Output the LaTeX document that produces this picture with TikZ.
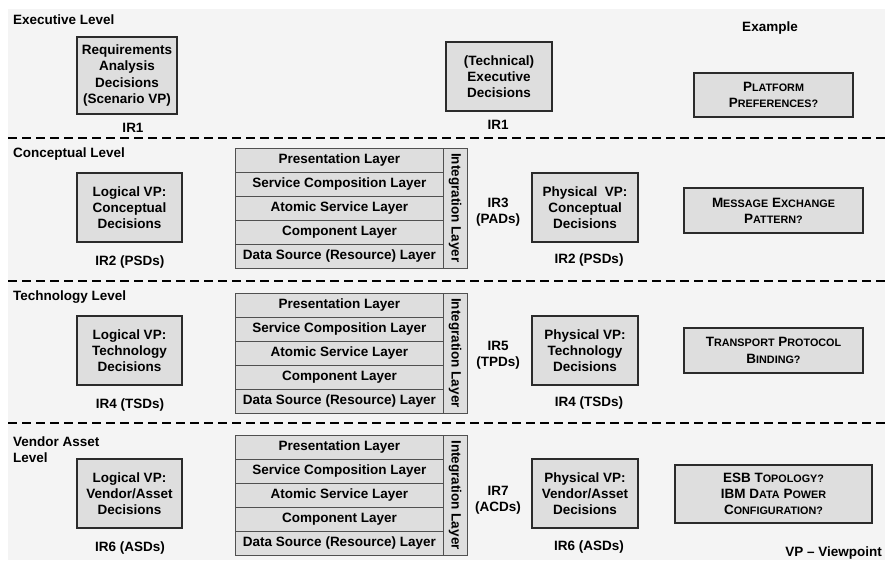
\documentclass[tikz,border=0pt]{standalone}
\usepackage{fontspec}
\setmainfont{Liberation Sans}
\definecolor{bgfill}{HTML}{F4F4F4}
\definecolor{boxfill}{HTML}{DEDEDE}
\definecolor{boxline}{HTML}{2B2B2B}
\definecolor{layerline}{HTML}{505050}
% faux small caps: first letter full size, the rest in smaller capitals
\newcommand\fsc[2]{#1{\fontsize{10.8}{13}\selectfont #2}}
% a five-layer architecture stack with its integration column
\newcommand\drawstack[2]{%
  \foreach \lname [count=\i from 0] in {Presentation Layer, Service Composition Layer, Atomic Service Layer, Component Layer, Data Source (Resource) Layer}{
    \node[layerbox] (#1-l\i) at (235, #2+24*\i) {\lname};
  }
  \node[intbox] (#1-int) at (443, #2) {};
  \node[rotate=-90] (#1-intlabel) at (455, #2+60) {Integration Layer};
}
\begin{document}
\begin{tikzpicture}[x=1pt, y=-1pt,
  every node/.style={font=\fontsize{13.5}{16.2}\selectfont\bfseries, text=black},
  decbox/.style={draw=boxline, fill=boxfill, line width=1.3pt, align=center, inner sep=0pt},
  layerbox/.style={draw=layerline, fill=boxfill, line width=0.8pt, minimum width=208pt,
    minimum height=24pt, inner sep=0pt, anchor=north west},
  intbox/.style={draw=layerline, fill=boxfill, line width=0.8pt, minimum width=24pt,
    minimum height=120pt, inner sep=0pt, anchor=north west},
  irlabel/.style={align=center, inner sep=0pt},
  levellabel/.style={anchor=west, align=left, inner sep=0pt},
  levelsep/.style={line width=2.2pt, dash pattern=on 9pt off 5pt},
]
\useasboundingbox (0,0) rectangle (885,560);
\fill[white] (0,0) rectangle (885,560);
\fill[bgfill] (8,9) rectangle (885,560);

% level separators
\foreach \yy in {138, 281, 423}{
  \draw[levelsep] (8,\yy) -- (885,\yy);
}

% ---- Executive level ----
\node[levellabel] (execlbl) at (13,20) {Executive Level};
\node[decbox, minimum width=100pt, minimum height=77pt] (reqdec) at (127,75.5)
  {Requirements\\Analysis\\Decisions\\(Scenario VP)};
\node[irlabel] (ir1a) at (133,128) {IR1};
\node[decbox, minimum width=106pt, minimum height=69pt] (techexec) at (499,76.5)
  {(Technical)\\Executive\\Decisions};
\node[irlabel] (ir1b) at (498,125) {IR1};
\node[irlabel] (example) at (770,28) {Example};
\node[decbox, minimum width=159pt, minimum height=44pt] (platform) at (773.5,95)
  {\fsc{P}{LATFORM}\\\fsc{P}{REFERENCES?}};

% ---- Conceptual level ----
\node[levellabel] (conclbl) at (13,154) {Conceptual Level};
\node[decbox, minimum width=105pt, minimum height=69pt] (conclog) at (129.5,207.5)
  {Logical VP:\\Conceptual\\Decisions};
\node[irlabel] (ir2a) at (130,262) {IR2 (PSDs)};
\drawstack{cs}{148}
\node[irlabel] (ir3) at (498,212) {IR3\\(PADs)};
\node[decbox, minimum width=106pt, minimum height=69pt] (concphys) at (585,207.5)
  {Physical~~VP:\\Conceptual\\Decisions};
\node[irlabel] (ir2b) at (589,260) {IR2 (PSDs)};
\node[decbox, minimum width=179pt, minimum height=45pt] (mep) at (773.5,210.5)
  {\fsc{M}{ESSAGE} \fsc{E}{XCHANGE}\\\fsc{P}{ATTERN?}};

% ---- Technology level ----
\node[levellabel] (techlbl) at (13,297) {Technology Level};
\node[decbox, minimum width=105pt, minimum height=69pt] (techlog) at (129.5,350.5)
  {Logical VP:\\Technology\\Decisions};
\node[irlabel] (ir4a) at (130,405) {IR4 (TSDs)};
\drawstack{ts}{293}
\node[irlabel] (ir5) at (498,355) {IR5\\(TPDs)};
\node[decbox, minimum width=106pt, minimum height=69pt] (techphys) at (585,350.5)
  {Physical VP:\\Technology\\Decisions};
\node[irlabel] (ir4b) at (589,403) {IR4 (TSDs)};
\node[decbox, minimum width=179pt, minimum height=45pt] (tpb) at (773.5,350.5)
  {\fsc{T}{RANSPORT} \fsc{P}{ROTOCOL}\\\fsc{B}{INDING?}};

% ---- Vendor asset level ----
\node[levellabel] (vendlbl) at (13,449.5) {Vendor Asset\\Level};
\node[decbox, minimum width=105pt, minimum height=69pt] (vendlog) at (129.5,493.5)
  {Logical VP:\\Vendor/Asset\\Decisions};
\node[irlabel] (ir6a) at (130,548) {IR6 (ASDs)};
\drawstack{vs}{435}
\node[irlabel] (ir7) at (498,500) {IR7\\(ACDs)};
\node[decbox, minimum width=106pt, minimum height=69pt] (vendphys) at (585,493.5)
  {Physical VP:\\Vendor/Asset\\Decisions};
\node[irlabel] (ir6b) at (589,547) {IR6 (ASDs)};
\node[decbox, minimum width=197pt, minimum height=58pt] (esb) at (773.5,494)
  {ESB \fsc{T}{OPOLOGY?}\\IBM \fsc{D}{ATA} \fsc{P}{OWER}\\\fsc{C}{ONFIGURATION?}};
\node[anchor=east, inner sep=0pt] (vpnote) at (882,553) {VP -- Viewpoint};
\end{tikzpicture}
\end{document}
